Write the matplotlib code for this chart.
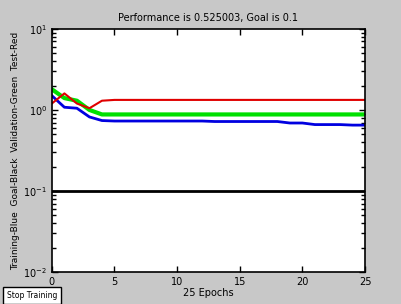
import numpy as np
import matplotlib
matplotlib.use("Agg")
import matplotlib.pyplot as plt
from matplotlib.ticker import LogLocator, NullFormatter

epochs = np.arange(0, 26)
train = [1.5, 1.08, 1.05, 0.82, 0.74, 0.73, 0.73, 0.73, 0.73, 0.73, 0.73, 0.73, 0.73,
         0.72, 0.72, 0.72, 0.72, 0.72, 0.72, 0.69, 0.69, 0.66, 0.66, 0.66, 0.65, 0.65]
valid = [1.8, 1.4, 1.3, 1.0, 0.88] + [0.88] * 21
test = [1.2, 1.6, 1.2, 1.05, 1.3] + [1.33] * 21
goal = 0.1

fig = plt.figure(figsize=(4.02, 3.04), dpi=100)
fig.patch.set_facecolor('#c8c8c8')
ax = fig.add_axes([0.129, 0.105, 0.779, 0.8])
ax.set_facecolor('white')

ax.semilogy(epochs, train, color='#0000e0', linewidth=2)
ax.semilogy(epochs, valid, color='#00e000', linewidth=3)
ax.semilogy(epochs, test, color='#e00000', linewidth=1.5)
ax.axhline(goal, color='black', linewidth=2)

ax.set_xlim(0, 25)
ax.set_ylim(1e-2, 1e1)
ax.set_xticks([0, 5, 10, 15, 20, 25])
ax.yaxis.set_minor_locator(LogLocator(base=10, subs=np.arange(2, 10), numticks=20))
ax.yaxis.set_minor_formatter(NullFormatter())
ax.tick_params(which='both', direction='in', top=True, right=True, labelsize=7)
ax.tick_params(which='major', length=4, width=1)
ax.tick_params(which='minor', length=3, width=1)
for s in ax.spines.values():
    s.set_linewidth(1.2)

ax.set_title('Performance is 0.525003, Goal is 0.1', fontsize=7, pad=6)
ax.set_xlabel('25 Epochs', fontsize=7, labelpad=1)
ax.set_ylabel('Training-Blue  Goal-Black  Validation-Green  Test-Red', fontsize=6.5, labelpad=2)

fig.text(0.08, 0.027, 'Stop Training', fontsize=5.5, ha='center', va='center',
         bbox=dict(boxstyle='square,pad=0.5', facecolor='white', edgecolor='black', linewidth=1))

fig.savefig('out.png', dpi=100, facecolor=fig.get_facecolor())
